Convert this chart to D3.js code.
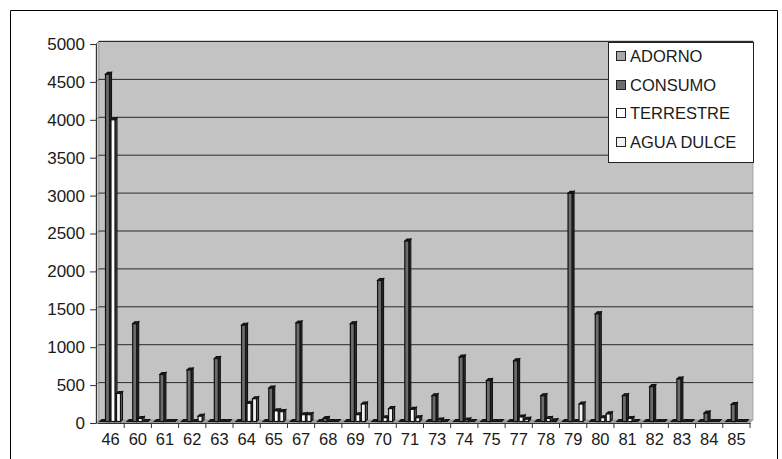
<!DOCTYPE html>
<html>
<head>
<meta charset="utf-8">
<script src="https://cdn.jsdelivr.net/npm/d3@7"></script>
<style>
  html, body { margin: 0; padding: 0; background: #fff; }
  svg { display: block; font-family: "Liberation Sans", Arial, sans-serif; }
</style>
</head>
<body>
<svg id="chart" width="782" height="459"></svg>
<script>
// Species codes along the category axis
const categories = ["46","60","61","62","63","64","65","67","68","69","70","71","73","74","75","77","78","79","80","81","82","83","84","85"];

// Series (one value per category)
const seriesNames = ["ADORNO", "CONSUMO", "TERRESTRE", "AGUA DULCE"];
const adorno     = [0,0,0,0,0,0,0,0,0,0,0,0,0,0,0,0,0,0,0,0,0,0,0,0];
const consumo    = [4580,1290,620,680,830,1270,440,1300,40,1290,1860,2380,340,850,540,800,340,3010,1420,340,460,560,110,225];
const terrestre  = [3980,40,0,0,0,240,140,90,0,90,50,160,20,20,0,60,40,0,50,40,0,0,0,0];
const aguaDulce  = [370,0,0,70,0,300,130,90,0,230,170,50,0,0,0,30,10,230,100,0,0,0,0,0];

const yTicks = [0,500,1000,1500,2000,2500,3000,3500,4000,4500,5000];

const fills  = ["#a8a8a8", "#6c6c6c", "#ffffff", "#f2f2f2"];
const sides  = ["#555555", "#2e2e2e", "#6a6a6a", "#6a6a6a"];
const textColor = "#1a1a1a";

const svg = d3.select("#chart");

// Outer frame
svg.append("path")
  .attr("d", "M10.5,470 L10.5,10.5 L777.5,10.5 L777.5,470")
  .attr("fill", "none").attr("stroke", "#000").attr("stroke-width", 1);

const left = 96, right = 750, depth = 3;
const y = d3.scaleLinear().domain([0, 5000]).range([423, 44]);
const x = d3.scaleBand().domain(categories).range([left + 1, right]).paddingInner(0).paddingOuter(0);

// Side wall
svg.append("polygon")
  .attr("points", [[left, y(0)], [left, y(5000)], [left + depth, y(5000) - depth], [left + depth, y(0) - depth]].join(" "))
  .attr("fill", "#d4d4d4").attr("stroke", "#9a9a9a").attr("stroke-width", 0.8);

// Back wall
svg.append("rect")
  .attr("x", left + depth).attr("y", y(5000) - depth)
  .attr("width", right - left).attr("height", y(0) - y(5000))
  .attr("fill", "#c3c3c3").attr("stroke", "#9a9a9a").attr("stroke-width", 0.8);

// Floor
svg.append("polygon")
  .attr("points", [[left, y(0)], [right, y(0)], [right + depth, y(0) - depth], [left + depth, y(0) - depth]].join(" "))
  .attr("fill", "#9c9c9c");

// Gridlines on back wall and side wall
const grid = svg.append("g");
yTicks.filter(d => d > 0).forEach(d => {
  grid.append("line")
    .attr("x1", left + depth).attr("x2", right + depth)
    .attr("y1", y(d) - depth + 0.5).attr("y2", y(d) - depth + 0.5)
    .attr("stroke", "#2a2a2a").attr("stroke-width", 1);
  grid.append("line")
    .attr("x1", left).attr("x2", left + depth)
    .attr("y1", y(d)).attr("y2", y(d) - depth)
    .attr("stroke", "#666").attr("stroke-width", 0.8);
});

// Bars with a shallow 3D side and top
const data = [adorno, consumo, terrestre, aguaDulce];
const slotW = 5.5, barW = 4, bd = 2;
const bars = svg.append("g");
categories.forEach((c, ci) => {
  const x0 = x(c) + 3;
  data.forEach((vals, si) => {
    const v = vals[ci];
    const bx = x0 + si * slotW;
    const base = y(0) - 1.5;
    const top = y(v) - 1.5;
    const g = bars.append("g");
    // side face
    g.append("polygon")
      .attr("points", [[bx + barW, top], [bx + barW + bd, top - bd], [bx + barW + bd, base - bd], [bx + barW, base]].join(" "))
      .attr("fill", sides[si]).attr("stroke", "#111").attr("stroke-width", 1.1);
    // top face
    g.append("polygon")
      .attr("points", [[bx, top], [bx + bd, top - bd], [bx + barW + bd, top - bd], [bx + barW, top]].join(" "))
      .attr("fill", "#222").attr("stroke", "#111").attr("stroke-width", 1.1);
    // front face
    g.append("rect")
      .attr("x", bx).attr("y", top).attr("width", barW).attr("height", Math.max(0, base - top))
      .attr("fill", fills[si]).attr("stroke", "#111").attr("stroke-width", 1.2);
  });
});

// Y axis
const yAxis = d3.axisLeft(y).tickValues(yTicks).tickSize(6).tickPadding(5).tickFormat(d3.format("d"));
const ya = svg.append("g").attr("transform", `translate(${left},0)`).call(yAxis);
ya.select(".domain").attr("stroke", "#333");
ya.selectAll(".tick line").attr("stroke", "#333");
ya.selectAll("text").attr("font-size", 17).attr("fill", textColor)
  .attr("font-family", "'Liberation Sans', Arial, sans-serif");

// X axis
const xAxis = d3.axisBottom(x).tickSize(0).tickPadding(10);
const xa = svg.append("g").attr("transform", `translate(0,${y(0)})`).call(xAxis);
xa.select(".domain").attr("stroke", "#333");
xa.selectAll("text").attr("font-size", 16.5).attr("fill", textColor)
  .attr("font-family", "'Liberation Sans', Arial, sans-serif");
// Separator ticks between categories
svg.append("g").selectAll("line")
  .data(categories)
  .join("line")
  .attr("x1", d => x(d) + x.bandwidth())
  .attr("x2", d => x(d) + x.bandwidth())
  .attr("y1", y(0)).attr("y2", y(0) + 5)
  .attr("stroke", "#333");

// Legend
const lg = svg.append("g");
lg.append("rect").attr("x", 608.5).attr("y", 42.5).attr("width", 145).attr("height", 120)
  .attr("fill", "#fff").attr("stroke", "#222").attr("stroke-width", 1);
const rowY = [56, 85, 113, 142];
seriesNames.forEach((name, i) => {
  lg.append("rect").attr("x", 616.5).attr("y", rowY[i] - 4.5).attr("width", 9).attr("height", 9)
    .attr("fill", fills[i]).attr("stroke", "#222").attr("stroke-width", 1);
  lg.append("text").attr("x", 630).attr("y", rowY[i]).attr("dy", "0.36em")
    .attr("font-size", 16.5).attr("fill", textColor).text(name);
});
</script>
</body>
</html>
